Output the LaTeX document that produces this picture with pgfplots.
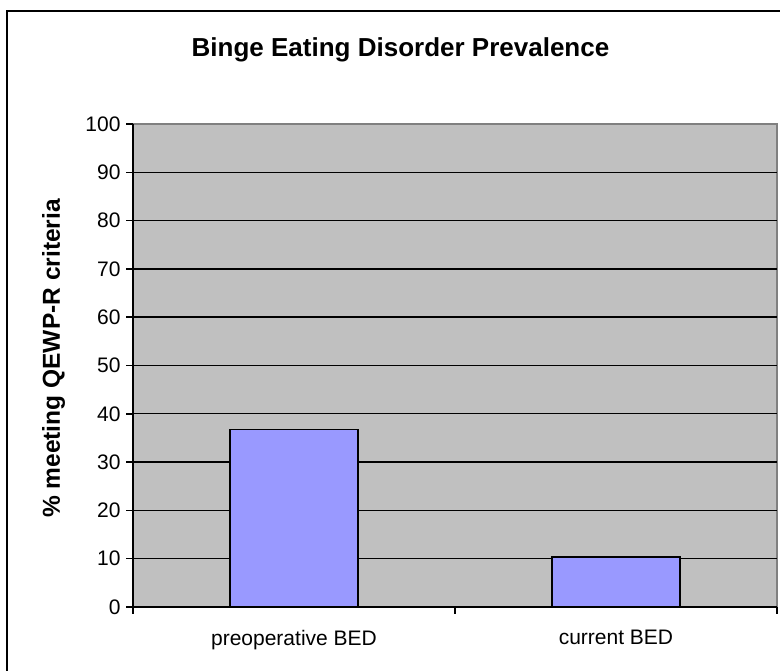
\documentclass[border=0pt]{standalone}
\usepackage{pgfplots}
\pgfplotsset{compat=1.18}
\usepackage{fontspec}
\setmainfont{Liberation Sans}
\definecolor{bgc}{HTML}{C0C0C0}
\definecolor{barc}{HTML}{9999FF}
\definecolor{bord}{HTML}{808080}
\begin{document}
\begin{tikzpicture}[x=1pt,y=1pt]
\useasboundingbox (0,0) rectangle (780,671);
\draw[line width=2pt] (7,0) -- (7,660) -- (780,660);
\node[anchor=base, font=\fontsize{26}{30}\selectfont\bfseries] at (400.5,614) {Binge Eating Disorder Prevalence};
\node[rotate=90, anchor=base, font=\fontsize{24.5}{28}\selectfont\bfseries] at (60,312.5) {\% meeting QEWP-R criteria};
\begin{axis}[
  at={(133pt,64pt)}, anchor=south west, scale only axis,
  width=644pt, height=483pt,
  xmin=0, xmax=2, ymin=0, ymax=100,
  axis lines*=left,
  axis line style={black, line width=1.5pt},
  axis background/.style={fill=bgc, draw=bord, line width=1.5pt},
  ytick={0,10,...,90},
  extra y ticks={100},
  extra y tick style={grid=none},
  ymajorgrids,
  major grid style={black, line width=1.4pt},
  xtick={0,1,2},
  xticklabels={},
  extra x ticks={0.5,1.5},
  extra x tick labels={preoperative BED, current BED},
  extra x tick style={major tick length=0pt, grid=none, xticklabel style={yshift=-20pt}},
  tick align=outside,
  major tick length=7pt,
  tick style={black, line width=1.5pt},
  ticklabel style={font=\fontsize{21}{25}\selectfont},
  /pgf/number format/assume math mode=true,
  yticklabel style={xshift=-2pt},
]
\addplot[ybar, bar width=128pt, fill=barc, draw=black, line width=1.5pt]
  coordinates {(0.5,36.7) (1.5,10.3)};
\end{axis}
\end{tikzpicture}
\end{document}
